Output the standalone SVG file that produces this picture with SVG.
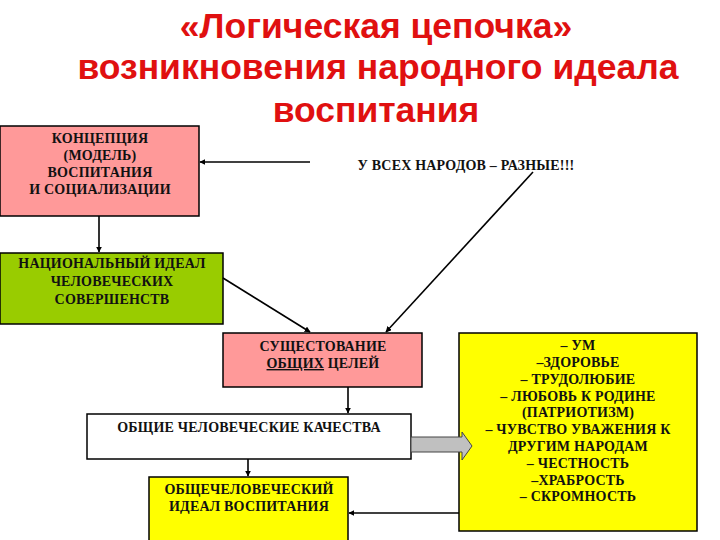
<svg xmlns="http://www.w3.org/2000/svg" width="720" height="540" viewBox="0 0 720 540">
<defs>
<style>
.title{font-family:"Liberation Sans",Arial,sans-serif;font-weight:bold;font-size:35.5px;fill:#E01010;text-anchor:middle}
.t{font-family:"Liberation Serif","Times New Roman",serif;font-weight:bold;font-size:14px;letter-spacing:0.2px;fill:#111;text-anchor:middle}
.box{stroke:#000;stroke-width:1.5}
.ln{stroke:#000;stroke-width:1.6;fill:none;marker-end:url(#ah)}
</style>
<marker id="ah" viewBox="0 0 10 10" refX="9" refY="5" markerWidth="6" markerHeight="6" markerUnits="userSpaceOnUse" orient="auto">
<path d="M0,0 L10,5 L0,10 z" fill="#000"/>
</marker>
</defs>
<rect width="720" height="540" fill="#fff"/>
<g id="title">
<text class="title" x="376" y="38">«Логическая цепочка»</text>
<text class="title" x="378" y="79">возникновения народного идеала</text>
<text class="title" x="376" y="122">воспитания</text>
</g>
<g id="concept">
<rect class="box" x="0" y="126" width="199" height="90" fill="#FF9999"/>
<text class="t" x="100" y="143">КОНЦЕПЦИЯ</text>
<text class="t" x="100" y="160">(МОДЕЛЬ)</text>
<text class="t" x="100" y="177">ВОСПИТАНИЯ</text>
<text class="t" x="100" y="194">И СОЦИАЛИЗАЦИИ</text>
</g>
<g id="note">
<text class="t" x="466" y="170">У ВСЕХ НАРОДОВ – РАЗНЫЕ!!!</text>
</g>
<g id="national">
<rect class="box" x="0" y="253" width="223" height="71" fill="#99CC00"/>
<text class="t" x="112" y="268">НАЦИОНАЛЬНЫЙ ИДЕАЛ</text>
<text class="t" x="112" y="286">ЧЕЛОВЕЧЕСКИХ</text>
<text class="t" x="112" y="304">СОВЕРШЕНСТВ</text>
</g>
<g id="goals">
<rect class="box" x="223" y="333" width="199" height="54" fill="#FF9999"/>
<text class="t" x="323" y="351">СУЩЕСТОВАНИЕ</text>
<text class="t" x="323" y="368"><tspan text-decoration="underline">ОБЩИХ</tspan> ЦЕЛЕЙ</text>
</g>
<g id="qualities">
<rect class="box" x="87" y="414" width="324" height="45" fill="#FFFFFF"/>
<text class="t" x="249" y="432">ОБЩИЕ ЧЕЛОВЕЧЕСКИЕ КАЧЕСТВА</text>
</g>
<g id="ideal">
<rect class="box" x="149" y="477" width="199" height="70" fill="#FFFF00"/>
<text class="t" x="249" y="494">ОБЩЕЧЕЛОВЕЧЕСКИЙ</text>
<text class="t" x="249" y="511">ИДЕАЛ ВОСПИТАНИЯ</text>
</g>
<g id="list">
<rect class="box" x="459" y="333" width="238" height="198" fill="#FFFF00"/>
<text class="t" x="578" y="350">– УМ</text>
<text class="t" x="578" y="367">–ЗДОРОВЬЕ</text>
<text class="t" x="578" y="384">– ТРУДОЛЮБИЕ</text>
<text class="t" x="578" y="401">– ЛЮБОВЬ К РОДИНЕ</text>
<text class="t" x="578" y="417">(ПАТРИОТИЗМ)</text>
<text class="t" x="578" y="434">– ЧУВСТВО УВАЖЕНИЯ К</text>
<text class="t" x="578" y="451">ДРУГИМ НАРОДАМ</text>
<text class="t" x="578" y="468">– ЧЕСТНОСТЬ</text>
<text class="t" x="578" y="485">–ХРАБРОСТЬ</text>
<text class="t" x="578" y="501">– СКРОМНОСТЬ</text>
</g>
<g id="connectors">
<line class="ln" x1="310" y1="162" x2="200" y2="162"/>
<line class="ln" x1="533" y1="172" x2="386" y2="332"/>
<line class="ln" x1="99" y1="216" x2="99" y2="252"/>
<line class="ln" x1="223" y1="278" x2="310" y2="332"/>
<line class="ln" x1="348" y1="387" x2="348" y2="413"/>
<line class="ln" x1="248" y1="459" x2="248" y2="476"/>
<line class="ln" x1="459" y1="513" x2="349" y2="513"/>
<path d="M411,437 L462,437 L462,432 L472,446 L462,460 L462,452 L411,452 Z" fill="#C0C0C0" stroke="#444" stroke-width="1"/>
</g>
</svg>
